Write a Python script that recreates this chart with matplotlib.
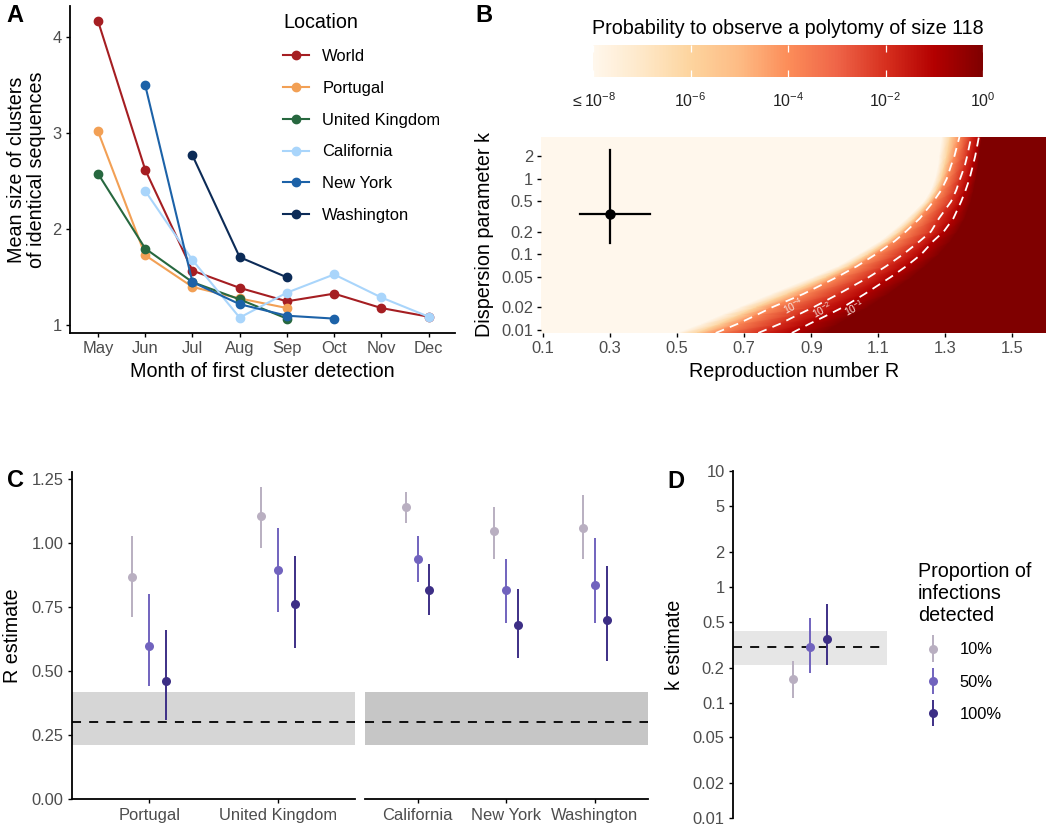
import numpy as np
import matplotlib
matplotlib.use('Agg')
import matplotlib.pyplot as plt
from matplotlib.container import ErrorbarContainer
from matplotlib.legend_handler import HandlerErrorbar
from matplotlib.ticker import NullLocator

plt.rcParams['font.family'] = ['Liberation Sans', 'DejaVu Sans']
plt.rcParams['mathtext.fontset'] = 'custom'
plt.rcParams['mathtext.rm'] = 'Liberation Sans'
plt.rcParams['mathtext.default'] = 'regular'

# panel A
months = ['May', 'Jun', 'Jul', 'Aug', 'Sep', 'Oct', 'Nov', 'Dec']
nan = float('nan')
world = [4.17, 2.62, 1.57, 1.39, 1.25, 1.33, 1.18, 1.09]
portugal = [3.02, 1.73, 1.40, 1.28, 1.18, nan, nan, nan]
uk = [2.58, 1.80, 1.45, 1.27, 1.07, nan, nan, nan]
california = [nan, 2.40, 1.68, 1.08, 1.34, 1.53, 1.29, 1.09]
new_york = [nan, 3.50, 1.45, 1.22, 1.10, 1.07, nan, nan]
washington = [nan, nan, 2.77, 1.71, 1.50, nan, nan, nan]

# panel B, R position of each probability level along rows of k
k_rows = [0.0091, 0.012, 0.016, 0.02, 0.03, 0.05, 0.07, 0.1, 0.15, 0.2, 0.3, 0.5, 0.7, 1, 1.5, 2, 3.6]
r_m8 = [.502, .572, .637, .687, .782, .907, .982, 1.042, 1.107, 1.142, 1.187, 1.237, 1.257, 1.27, 1.279, 1.282, 1.29]
r_m6 = [.56, .628, .69, .737, .83, .945, 1.012, 1.07, 1.13, 1.165, 1.208, 1.252, 1.273, 1.288, 1.298, 1.305, 1.315]
r_m4 = [.615, .68, .74, .784, .877, .977, 1.037, 1.092, 1.149, 1.182, 1.224, 1.264, 1.287, 1.304, 1.317, 1.327, 1.342]
r_m2 = [.742, .806, .862, .907, .982, 1.072, 1.124, 1.174, 1.224, 1.257, 1.281, 1.317, 1.332, 1.344, 1.358, 1.365, 1.377]
r_m1 = [.842, .894, .952, .995, 1.06, 1.137, 1.184, 1.228, 1.264, 1.295, 1.324, 1.347, 1.36, 1.372, 1.382, 1.389, 1.40]
r_0 = [.942, .982, 1.032, 1.072, 1.132, 1.202, 1.242, 1.282, 1.317, 1.337, 1.359, 1.377, 1.385, 1.392, 1.399, 1.402, 1.409]
prob_levels = [-8, -8, -6, -4, -2, -1, 0, 0]
r_est, r_lo, r_hi = 0.30, 0.21, 0.42
k_est, k_lo, k_hi = 0.34, 0.14, 2.4

# panel C
c_left = ['Portugal', 'United Kingdom']
c_right = ['California', 'New York', 'Washington']
proportions = ['10%', '50%', '100%']
left_mid = [[0.87, 1.105], [0.60, 0.894], [0.46, 0.764]]
left_low = [[0.713, 0.98], [0.44, 0.73], [0.31, 0.59]]
left_high = [[1.03, 1.22], [0.80, 1.06], [0.66, 0.95]]
right_mid = [[1.14, 1.047, 1.06], [0.94, 0.817, 0.838], [0.817, 0.68, 0.70]]
right_low = [[1.08, 0.94, 0.94], [0.85, 0.69, 0.69], [0.72, 0.55, 0.54]]
right_high = [[1.20, 1.14, 1.19], [1.03, 0.94, 1.02], [0.92, 0.82, 0.91]]

# panel D
d_mid = [0.159, 0.303, 0.357]
d_low = [0.11, 0.182, 0.21]
d_high = [0.229, 0.536, 0.708]

W, H = 1050, 830
loc_colors = ['#A51E22', '#F2A055', '#27683F', '#A9D5FB', '#1C62A8', '#0C2B57']
prop_colors = ['#B9AFC1', '#7163BE', '#3D2F86']
TICK = '#4D4D4D'
LAB = 14.25
TCK = 11.9


def px_axes(left, top, right, bottom):
    return fig.add_axes([left / W, 1 - bottom / H, (right - left) / W, (bottom - top) / H])


def classic(ax):
    ax.spines['top'].set_visible(False)
    ax.spines['right'].set_visible(False)
    ax.spines['left'].set_linewidth(1.3)
    ax.spines['bottom'].set_linewidth(1.3)
    ax.tick_params(labelsize=TCK, labelcolor=TICK, length=3, width=1.0, pad=3)


def place_labels(ax, left, top, right, bottom, ylab_x=None, xlab_y=None):
    # label positions given in figure pixels
    if ylab_x is not None:
        ax.yaxis.set_label_coords((ylab_x - left) / (right - left), 0.5)
    if xlab_y is not None:
        ax.xaxis.set_label_coords(0.5, (bottom - xlab_y) / (bottom - top))


def intervals(ax, x, mid, low, high, color, **kw):
    mid, low, high = np.array(mid), np.array(low), np.array(high)
    return ax.errorbar(x, mid, yerr=[mid - low, high - mid], fmt='o', color=color, ms=6.5,
                       elinewidth=1.4, mec='none', zorder=4, **kw)


fig = plt.figure(figsize=(W / 100, H / 100), dpi=100)

# A
ax = px_axes(70, 6, 455, 333)
classic(ax)
series = [world, portugal, uk, california, new_york, washington]
names = ['World', 'Portugal', 'United Kingdom', 'California', 'New York', 'Washington']
for s, name, col in zip(series, names, loc_colors):
    ax.plot(range(len(months)), s, '-o', color=col, lw=1.5, ms=6, label=name)
ax.set_xlim(-0.593, 7.56)
ax.set_ylim(0.92, 4.326)
ax.set_xticks(range(len(months)))
ax.set_xticklabels(months)
ax.set_yticks([1, 2, 3, 4])
ax.set_xlabel('Month of first cluster detection', fontsize=LAB)
ax.set_ylabel('Mean size of clusters\nof identical sequences', fontsize=LAB, linespacing=1.05)
place_labels(ax, 70, 6, 455, 333, ylab_x=46, xlab_y=362)
ax.legend(loc='upper left', bbox_to_anchor=(278 / W, 1 - 8 / H), bbox_transform=fig.transFigure,
          frameon=False, fontsize=TCK, title='Location', title_fontsize=LAB, alignment='left',
          labelspacing=1.02, handlelength=1.58, handletextpad=0.79, borderpad=0.3, borderaxespad=0)

# B
ax = px_axes(541.3, 136.7, 1046, 333)
r_left, r_right = 0.095, 1.6
n = len(k_rows)
mesh_x = np.column_stack([np.full(n, r_left), r_m8, r_m6, r_m4, r_m2, r_m1, r_0, np.full(n, r_right)])
mesh_y = np.tile(np.array(k_rows)[:, None], (1, mesh_x.shape[1]))
mesh_c = np.tile(np.array(prob_levels, dtype=float), (n, 1))
mesh = ax.pcolormesh(mesh_x, mesh_y, mesh_c, shading='gouraud', cmap='OrRd', vmin=-8, vmax=0, rasterized=True)
ax.set_yscale('log')
ax.set_xlim(r_left, r_right)
ax.set_ylim(k_rows[0], k_rows[-1])
for r_line in (r_m4, r_m2, r_m1):
    ax.plot(r_line, k_rows, color='white', lw=1.3, ls=(0, (5, 3.5)))
for r_t, k_t, lab in [(0.847, 0.0207, r'$10^{-4}$'), (0.932, 0.0184, r'$10^{-2}$'), (1.027, 0.0194, r'$10^{-1}$')]:
    ax.text(r_t, k_t, lab, color='#F6E3DC', fontsize=7.5, rotation=28, ha='center', va='center')
ax.plot([r_lo, r_hi], [k_est, k_est], color='black', lw=1.6)
ax.plot([r_est, r_est], [k_lo, k_hi], color='black', lw=1.6)
ax.plot([r_est], [k_est], 'o', color='black', ms=6.5)
for sp in ax.spines.values():
    sp.set_visible(False)
ax.set_xticks([0.1, 0.3, 0.5, 0.7, 0.9, 1.1, 1.3, 1.5])
ax.set_xticklabels(['0.1', '0.3', '0.5', '0.7', '0.9', '1.1', '1.3', '1.5'])
ax.set_yticks([0.01, 0.02, 0.05, 0.1, 0.2, 0.5, 1, 2])
ax.set_yticklabels(['0.01', '0.02', '0.05', '0.1', '0.2', '0.5', '1', '2'])
ax.yaxis.set_minor_locator(NullLocator())
ax.tick_params(labelsize=TCK, labelcolor=TICK, length=3, width=1.0, pad=3)
ax.set_xlabel('Reproduction number R', fontsize=LAB)
ax.set_ylabel('Dispersion parameter k', fontsize=LAB)
place_labels(ax, 541.3, 136.7, 1046, 333, ylab_x=494, xlab_y=362)

cax = px_axes(593, 45, 983, 77)
cb = fig.colorbar(mesh, cax=cax, orientation='horizontal')
cb.outline.set_visible(False)
cb.set_ticks([-8, -6, -4, -2, 0])
cb.set_ticklabels([r'$\leq 10^{-8}$', r'$10^{-6}$', r'$10^{-4}$', r'$10^{-2}$', r'$10^{0}$'])
cb.minorticks_off()
cax.tick_params(axis='x', labelsize=11.5, colors='white', labelcolor='#222222', direction='in',
                length=5, width=0.9, top=True, pad=10)
cax.set_title('Probability to observe a polytomy of size 118', fontsize=LAB, pad=8)

# C
y_top = 1.28
ax1 = px_axes(72, 471.7, 355, 799)
ax2 = px_axes(364.5, 471.7, 648, 799)
offsets = [-0.133, 0, 0.133]
for a, cats, mids, lows, highs, band in [(ax1, c_left, left_mid, left_low, left_high, '#D6D6D6'),
                                         (ax2, c_right, right_mid, right_low, right_high, '#C6C6C6')]:
    classic(a)
    a.axhspan(r_lo, r_hi, color=band, lw=0, zorder=1)
    a.axhline(r_est, color='black', lw=1.3, ls=(0, (5, 4.5)), zorder=2)
    xs = np.arange(len(cats))
    for off, m, lo, hi, col in zip(offsets, mids, lows, highs, prop_colors):
        intervals(a, xs + off, m, lo, hi, col)
    a.set_xlim(-0.6, len(cats) - 0.4)
    a.set_ylim(0, y_top)
    a.set_xticks(xs)
    a.set_xticklabels(cats)
    a.tick_params(axis='x', pad=3.5)
ax1.set_yticks([0, 0.25, 0.5, 0.75, 1, 1.25])
ax1.set_yticklabels(['0.00', '0.25', '0.50', '0.75', '1.00', '1.25'])
ax1.set_ylabel('R estimate', fontsize=LAB)
place_labels(ax1, 72, 471.7, 355, 799, ylab_x=22)
ax2.spines['left'].set_visible(False)
ax2.set_yticks([])

# D
ax = px_axes(733, 471.3, 887, 818.3)
classic(ax)
ax.spines['bottom'].set_visible(False)
ax.set_xticks([])
ax.set_yscale('log')
ax.set_ylim(0.01, 10)
ax.set_xlim(-0.6, 0.6)
ax.axhspan(r_lo, r_hi, color='#E6E6E6', lw=0, zorder=1)
ax.axhline(r_est, color='black', lw=1.3, ls=(0, (5, 4.5)), zorder=2)
handles = []
for i, (off, col) in enumerate(zip(offsets, prop_colors)):
    handles.append(intervals(ax, [off], [d_mid[i]], [d_low[i]], [d_high[i]], col))
ax.set_yticks([0.01, 0.02, 0.05, 0.1, 0.2, 0.5, 1, 2, 5, 10])
ax.set_yticklabels(['0.01', '0.02', '0.05', '0.1', '0.2', '0.5', '1', '2', '5', '10'])
ax.yaxis.set_minor_locator(NullLocator())
ax.set_ylabel('k estimate', fontsize=LAB)
place_labels(ax, 733, 471.3, 887, 818.3, ylab_x=684)
fig.legend(handles, proportions, loc='upper left', bbox_to_anchor=(913 / W, 1 - 557 / H), frameon=False,
           fontsize=TCK, title='Proportion of\ninfections\ndetected', title_fontsize=LAB, alignment='left',
           labelspacing=1.05, handlelength=1.8, handletextpad=0.73, borderpad=0.3, borderaxespad=0,
           handler_map={ErrorbarContainer: HandlerErrorbar(yerr_size=0.8, numpoints=1)})

for lab, x, y in [('A', 15, 16), ('B', 484, 16), ('C', 15, 480), ('D', 676, 481)]:
    fig.text(x / W, 1 - y / H, lab, fontsize=17, fontweight='bold', ha='center', va='center')

fig.savefig('out.png', dpi=100)
